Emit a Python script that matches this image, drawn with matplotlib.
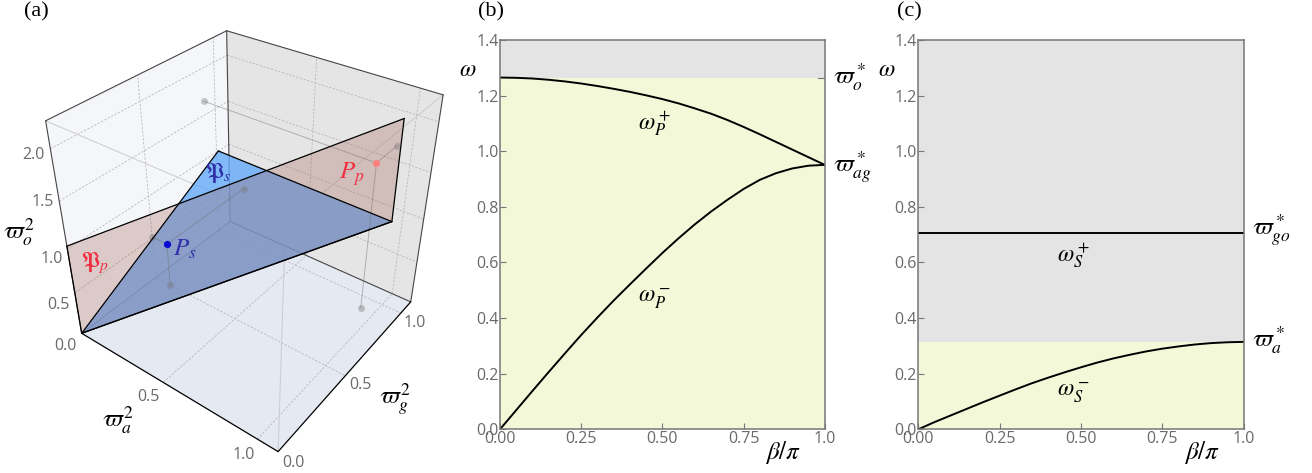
"""Three-panel figure: parameter space (a) and dispersion curves (b, c)."""

import matplotlib

matplotlib.use("Agg")
import matplotlib.pyplot as plt
import numpy as np
from matplotlib.patches import Polygon

plt.rcParams["mathtext.fontset"] = "stix"
plt.rcParams["font.family"] = ["Liberation Serif", "DejaVu Sans"]

W, H = 1312, 473
TICK_FONT = "Open Sans"
TICK_COLOR = "#6a6a6a"
GAP_COLOR = "#e4e4e4"
BAND_COLOR = "#f3f8d9"

# panel (b) and (c) curves
beta = [0.00, 0.05, 0.10, 0.15, 0.20, 0.25, 0.30, 0.35, 0.40, 0.45, 0.50,
        0.55, 0.60, 0.65, 0.70, 0.75, 0.80, 0.85, 0.90, 0.95, 1.00]
omega_p_plus = [1.265, 1.264, 1.2615, 1.257, 1.251, 1.2435, 1.2345, 1.2245, 1.2135, 1.201, 1.1875,
                1.172, 1.154, 1.135, 1.1125, 1.0875, 1.061, 1.0335, 1.006, 0.9785, 0.951]
omega_p_minus = [0.000, 0.069, 0.138, 0.206, 0.273, 0.339, 0.402, 0.463, 0.521, 0.578, 0.634,
                 0.687, 0.737, 0.783, 0.825, 0.864, 0.897, 0.921, 0.938, 0.948, 0.951]
omega_s_plus = [0.707] * len(beta)
omega_s_minus = [0.000, 0.026, 0.050, 0.074, 0.098, 0.121, 0.144, 0.166, 0.186, 0.205, 0.223,
                 0.240, 0.255, 0.268, 0.280, 0.290, 0.298, 0.305, 0.310, 0.313, 0.3145]
X_TICKS = [0.0, 0.25, 0.5, 0.75, 1.0]
X_LABELS = ["0.00", "0.25", "0.50", "0.75", "1.0"]
Y_TICKS = [0.0, 0.2, 0.4, 0.6, 0.8, 1.0, 1.2, 1.4]
OMEGA_O = 1.265
OMEGA_A = 0.3145

# panel (a): box extent and points, in (a, g, o) coordinates
A_MAX, G_MAX, O_MAX = 1.1, 1.1, 2.25
plane_p = [(0, 0, 0), (0, 0, 1.03), (0.946, 1.1, 1.93), (0.95, 1.1, 0.84)]
plane_s = [(0, 0, 0), (0, 1.015, 1.0), (0.95, 1.1, 0.84)]
point_s = (0.095, 0.5, 0.52)
point_p = (0.93, 0.92, 1.65)
a_ticks = [0.0, 0.5, 1.0]
g_ticks = [0.0, 0.5, 1.0]
o_ticks = [0.5, 1.0, 1.5, 2.0]


def fit_camera():
    # box corners and where they land on the page
    world = [(0, 0, 0), (A_MAX, 0, 0), (A_MAX, G_MAX, 0), (0, G_MAX, 0),
             (0, 0, O_MAX), (A_MAX, 0, O_MAX), (A_MAX, G_MAX, O_MAX), (0, G_MAX, O_MAX)]
    page = [(81.7, 333.3), (278.3, 451.7), (410.7, 301.7), (230.0, 221.7),
            (45.7, 120.7), (285.0, 223.3), (443.3, 95.0), (226.7, 30.7)]
    rows, rhs = [], []
    for (x, y, z), (u, v) in zip(world, page):
        rows.append([x, y, z, 1, 0, 0, 0, 0, -u * x, -u * y, -u * z])
        rows.append([0, 0, 0, 0, x, y, z, 1, -v * x, -v * y, -v * z])
        rhs.extend([u, v])
    sol = np.linalg.lstsq(np.array(rows, float), np.array(rhs, float), rcond=None)[0]
    return np.append(sol, 1.0).reshape(3, 4)


CAMERA = fit_camera()


def project(p):
    u, v, w = CAMERA @ np.array([p[0], p[1], p[2], 1.0])
    return u / w, v / w


def line3(ax, p0, p1, **kw):
    (x0, y0), (x1, y1) = project(p0), project(p1)
    ax.plot([x0, x1], [y0, y1], solid_capstyle="round", **kw)


def face3(ax, pts, **kw):
    ax.add_patch(Polygon([project(p) for p in pts], closed=True, linewidth=0, **kw))


def tick3(ax, p, text, dx, dy):
    x, y = project(p)
    ax.text(x + dx, y + dy, text, ha="center", va="center", fontsize=11.5,
            family=TICK_FONT, color=TICK_COLOR)


def draw_box(ax):
    face3(ax, [(0, 0, 0), (0, G_MAX, 0), (0, G_MAX, O_MAX), (0, 0, O_MAX)], facecolor="#f5f6f9", zorder=1)
    face3(ax, [(0, G_MAX, 0), (A_MAX, G_MAX, 0), (A_MAX, G_MAX, O_MAX), (0, G_MAX, O_MAX)], facecolor="#e5e5e5", zorder=1)
    face3(ax, [(0, 0, 0), (A_MAX, 0, 0), (A_MAX, G_MAX, 0), (0, G_MAX, 0)], facecolor="#e5e9f2", zorder=1)

    grid = dict(color="#b4b4b4", linewidth=0.55, linestyle=(0, (3, 2)), zorder=2)
    for a in a_ticks[1:]:
        line3(ax, (a, 0, 0), (a, G_MAX, 0), **grid)
        line3(ax, (a, G_MAX, 0), (a, G_MAX, O_MAX), **grid)
    for g in g_ticks[1:]:
        line3(ax, (0, g, 0), (A_MAX, g, 0), **grid)
        line3(ax, (0, g, 0), (0, g, O_MAX), **grid)
    for o in o_ticks:
        line3(ax, (0, 0, o), (0, G_MAX, o), **grid)
        line3(ax, (0, G_MAX, o), (A_MAX, G_MAX, o), **grid)

    faint = dict(color="#cccccc", linewidth=0.7, zorder=2)
    line3(ax, (0, 0, O_MAX), (A_MAX, 0, O_MAX), **faint)
    line3(ax, (A_MAX, 0, O_MAX), (A_MAX, G_MAX, O_MAX), **faint)
    line3(ax, (A_MAX, 0, O_MAX), (A_MAX, 0, 0), **faint)

    dark = dict(color="#454545", linewidth=0.8, zorder=2)
    line3(ax, (0, 0, O_MAX), (0, G_MAX, O_MAX), **dark)
    line3(ax, (0, G_MAX, O_MAX), (A_MAX, G_MAX, O_MAX), **dark)
    line3(ax, (0, G_MAX, O_MAX), (0, G_MAX, 0), **dark)
    line3(ax, (0, 0, O_MAX), (0, 0, 0), **dark)
    line3(ax, (A_MAX, G_MAX, O_MAX), (A_MAX, G_MAX, 0), **dark)
    line3(ax, (0, G_MAX, 0), (A_MAX, G_MAX, 0), **dark)
    line3(ax, (0, 0, 0), (0, G_MAX, 0), color="#555555", linewidth=0.6, zorder=2)
    line3(ax, (0, 0, 0), (A_MAX, 0, 0), color="black", linewidth=0.9, zorder=6)
    line3(ax, (A_MAX, 0, 0), (A_MAX, G_MAX, 0), color="black", linewidth=0.9, zorder=6)


def draw_point(ax, p, color):
    shadows = [(p[0], p[1], 0), (0, p[1], p[2]), (p[0], G_MAX, p[2])]
    for s in shadows:
        line3(ax, p, s, color="#6e6e6e", linewidth=0.7, alpha=0.45, zorder=5)
        x, y = project(s)
        ax.plot(x, y, "o", ms=5, color="#777777", alpha=0.4, mew=0, zorder=5)
    x, y = project(p)
    ax.plot(x, y, "o", ms=5.2, color=color, mew=0, zorder=7)


def draw_panel_a(fig):
    ax = fig.add_axes([0, 0, 450 / W, 1])
    ax.set_xlim(0, 450)
    ax.set_ylim(H, 0)
    ax.axis("off")
    draw_box(ax)

    face3(ax, plane_s, facecolor=(100 / 255, 170 / 255, 250 / 255, 0.8), zorder=3)
    face3(ax, plane_p, facecolor=(165 / 255, 101 / 255, 90 / 255, 0.3), zorder=4)
    edge = dict(color="black", linewidth=0.9, zorder=6)
    for pts in (plane_p, plane_s):
        for p0, p1 in zip(pts, pts[1:] + pts[:1]):
            line3(ax, p0, p1, **edge)

    draw_point(ax, point_s, "#0a0ad0")
    draw_point(ax, point_p, "#ff8080")

    for o, (dx, dy) in zip(o_ticks, [(-16, 12), (-16, 10), (-16, 1), (-17, 6)]):
        tick3(ax, (0, 0, o), f"{o:.1f}", dx, dy)
    tick3(ax, (0, 0, 0), "0.0", -16, 13)
    tick3(ax, (0.5, 0, 0), "0.5", -15, 15)
    tick3(ax, (1.0, 0, 0), "1.0", -14, 16)
    tick3(ax, (A_MAX, 0, 0), "0.0", 15, 11)
    tick3(ax, (A_MAX, 0.5, 0), "0.5", 15, 9)
    tick3(ax, (A_MAX, 1.0, 0), "1.0", 14, 10)

    math = dict(ha="center", va="center", zorder=8)
    ax.text(19, 232, r"$\varpi_o^2$", fontsize=18, **math)
    ax.text(118, 420, r"$\varpi_a^2$", fontsize=18, **math)
    ax.text(395, 399, r"$\varpi_g^2$", fontsize=18, **math)
    ax.text(95, 263, r"$\mathfrak{P}_p$", fontsize=16, color="#f03040", **math)
    ax.text(185, 249, r"$P_s$", fontsize=18, color="#3030a8", **math)
    ax.text(218, 173, r"$\mathfrak{P}_s$", fontsize=16, color="#3030a8", **math)
    ax.text(352, 174, r"$P_p$", fontsize=18, color="#f03040", **math)


def style_axes(ax):
    ax.set_xlim(0, 1)
    ax.set_ylim(0, 1.4)
    ax.set_xticks(X_TICKS, X_LABELS)
    ax.set_yticks(Y_TICKS, [f"{y:.1f}" for y in Y_TICKS])
    ax.tick_params(direction="in", length=4, width=0.8, color="#777777", labelcolor=TICK_COLOR,
                   labelsize=11.5, pad=1.0)
    for label in ax.get_xticklabels() + ax.get_yticklabels():
        label.set_family(TICK_FONT)
    for spine in ax.spines.values():
        spine.set_color("#777777")
        spine.set_linewidth(1.1)
    ax.text(-0.125, 1.29, r"$\omega$", fontsize=17, ha="left", va="center")
    ax.text(0.872, -0.085, r"$\beta/\pi$", fontsize=18, ha="center", va="center")


def draw_panel_b(fig):
    ax = fig.add_axes([500 / W, 1 - 429.3 / H, 324.7 / W, 389.3 / H])
    ax.axhspan(0, OMEGA_O, color=BAND_COLOR, lw=0)
    ax.axhspan(OMEGA_O, 1.4, color=GAP_COLOR, lw=0)
    ax.plot(beta, omega_p_plus, color="black", lw=1.4)
    ax.plot(beta, omega_p_minus, color="black", lw=1.4)
    style_axes(ax)
    ax.plot([0.98, 1.0], [OMEGA_O, OMEGA_O], color="#777777", lw=0.8)
    ax.text(0.475, 1.10, r"$\omega_P^+$", fontsize=17, ha="center", va="center")
    ax.text(0.475, 0.47, r"$\omega_P^-$", fontsize=17, ha="center", va="center")
    ax.text(1.025, 1.265, r"$\varpi_o^*$", fontsize=18, ha="left", va="center", clip_on=False)
    ax.text(1.025, 0.945, r"$\varpi_{ag}^*$", fontsize=18, ha="left", va="center", clip_on=False)


def draw_panel_c(fig):
    ax = fig.add_axes([918.3 / W, 1 - 429.3 / H, 325.4 / W, 389.3 / H])
    ax.axhspan(0, OMEGA_A, color=BAND_COLOR, lw=0)
    ax.axhspan(OMEGA_A, 1.4, color=GAP_COLOR, lw=0)
    ax.plot(beta, omega_s_plus, color="black", lw=1.4)
    ax.plot(beta, omega_s_minus, color="black", lw=1.4)
    style_axes(ax)
    ax.text(0.475, 0.625, r"$\omega_S^+$", fontsize=17, ha="center", va="center")
    ax.text(0.475, 0.13, r"$\omega_S^-$", fontsize=17, ha="center", va="center")
    ax.text(1.025, 0.715, r"$\varpi_{go}^*$", fontsize=18, ha="left", va="center", clip_on=False)
    ax.text(1.025, 0.32, r"$\varpi_a^*$", fontsize=18, ha="left", va="center", clip_on=False)


def main():
    fig = plt.figure(figsize=(W / 100, H / 100), dpi=100)
    draw_panel_a(fig)
    draw_panel_b(fig)
    draw_panel_c(fig)
    for x, label in [(36, "(a)"), (491, "(b)"), (909, "(c)")]:
        fig.text(x / W, 1 - 12 / H, label, fontsize=16, ha="center", va="center")
    fig.savefig("out.png", dpi=100)


if __name__ == "__main__":
    main()
